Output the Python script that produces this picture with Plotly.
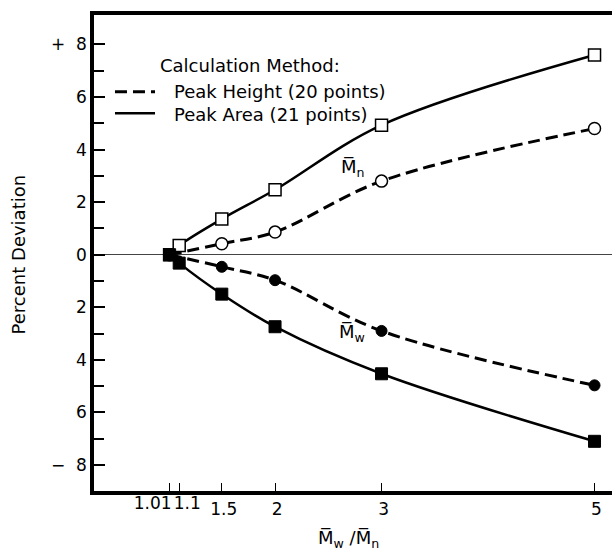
import plotly.graph_objects as go

# ---- data ----
x_area = [1.01, 1.1, 1.5, 2, 3, 5]
mn_area = [0.0, 0.35, 1.36, 2.47, 4.93, 7.6]
mw_area = [0.0, -0.32, -1.5, -2.74, -4.53, -7.1]

x_height = [1.01, 1.5, 2, 3, 5]
mn_height = [0.0, 0.42, 0.86, 2.8, 4.8]
mw_height = [0.0, -0.46, -0.97, -2.9, -4.97]

x_tick_vals = [1.01, 1.1, 1.5, 2, 3, 5]
x_tick_text = ["1.01", "1.1", "1.5", "2", "3", "5"]
y_tick_vals = [8, 6, 4, 2, 0, -2, -4, -6, -8]
y_tick_text = ["+\u00a0\u00a08", "6", "4", "2", "0", "2", "4", "6", "\u2212\u00a0\u00a08"]
y_minor_vals = [7, 5, 3, 1, -1, -3, -5, -7]

legend_title = "Calculation Method:"
legend_height = "Peak Height (20 points)"
legend_area = "Peak Area (21 points)"
label_mn = "M\u0305<sub>n</sub>"
label_mw = "M\u0305<sub>w</sub>"
x_title = "M\u0305<sub>w</sub> /M\u0305<sub>n</sub>"
y_title = "Percent Deviation"

FONT = "DejaVu Sans"
BLACK = "#000000"
X_RANGE = [0.300, 5.164]

fig = go.Figure()

# Peak height (dashed) – open circles for Mn
fig.add_trace(go.Scatter(
    x=x_height, y=mn_height, mode="lines+markers",
    line=dict(color=BLACK, width=3, dash="12px,6px", shape="spline", smoothing=1.0),
    marker=dict(symbol="circle", size=12, color="white", line=dict(color=BLACK, width=1.5)),
    showlegend=False, hoverinfo="skip"))
# Peak height (dashed) – filled circles for Mw
fig.add_trace(go.Scatter(
    x=x_height, y=mw_height, mode="lines+markers",
    line=dict(color=BLACK, width=3, dash="12px,6px", shape="spline", smoothing=1.0),
    marker=dict(symbol="circle", size=11, color=BLACK, line=dict(color=BLACK, width=1)),
    showlegend=False, hoverinfo="skip"))
# Peak area (solid) – open squares for Mn (overlaid axis x2 carries the 1.01 label)
fig.add_trace(go.Scatter(
    x=x_area, y=mn_area, mode="lines+markers", xaxis="x2",
    line=dict(color=BLACK, width=2.5, shape="spline", smoothing=1.0),
    marker=dict(symbol="square", size=12, color="white", line=dict(color=BLACK, width=1.5)),
    showlegend=False, hoverinfo="skip"))
# Peak area (solid) – filled squares for Mw (overlaid axis x3 carries the 1.1 label)
fig.add_trace(go.Scatter(
    x=x_area, y=mw_area, mode="lines+markers", xaxis="x3",
    line=dict(color=BLACK, width=2.5, shape="spline", smoothing=1.0),
    marker=dict(symbol="square", size=12, color=BLACK, line=dict(color=BLACK, width=1)),
    showlegend=False, hoverinfo="skip"))

tick_font = dict(family=FONT, size=17, color=BLACK)


def overlay_axis(vals, texts, shift):
    return dict(
        range=X_RANGE, overlaying="x", anchor="y", side="bottom",
        showgrid=False, zeroline=False, automargin=False, showline=False,
        ticks="inside", ticklen=8, tickwidth=1, tickcolor=BLACK,
        tickmode="array", tickvals=vals, ticktext=texts, tickangle=0,
        ticklabelshift=shift, tickfont=tick_font,
    )


fig.update_layout(
    width=612, height=554,
    margin=dict(l=94, r=0, t=15, b=63, autoexpand=False),
    paper_bgcolor="white", plot_bgcolor="white",
    font=dict(family=FONT, size=17, color=BLACK),
    hovermode=False,
    xaxis=dict(
        range=X_RANGE, showgrid=False, zeroline=False, automargin=False,
        showline=True, linecolor=BLACK, linewidth=3.5, mirror=True,
        ticks="inside", ticklen=8, tickwidth=1, tickcolor=BLACK,
        tickmode="array", tickvals=x_tick_vals[2:], ticktext=x_tick_text[2:], tickangle=0,
        ticklabelshift=2, tickfont=tick_font,
    ),
    xaxis2=overlay_axis(x_tick_vals[:1], x_tick_text[:1], -17),
    xaxis3=overlay_axis(x_tick_vals[1:2], x_tick_text[1:2], 8),
    yaxis=dict(
        range=[-8.99, 9.12], showgrid=False, automargin=False,
        zeroline=True, zerolinecolor="#444444", zerolinewidth=1,
        showline=True, linecolor=BLACK, linewidth=3.5,
        ticks="inside", ticklen=11, tickwidth=1.5, tickcolor=BLACK,
        tickmode="array", tickvals=y_tick_vals, ticktext=y_tick_text,
        tickfont=tick_font,
        minor=dict(tickmode="array", tickvals=y_minor_vals, ticks="inside",
                   ticklen=10, tickwidth=1.5, tickcolor=BLACK, showgrid=False),
    ),
)

# legend drawn as shapes + text
fig.add_shape(type="line", xref="paper", yref="paper", x0=0.0405, x1=0.1178,
              y0=0.8389, y1=0.8389, line=dict(color=BLACK, width=3, dash="12px,6px"))
fig.add_shape(type="line", xref="paper", yref="paper", x0=0.0405, x1=0.1178,
              y0=0.7935, y1=0.7935, line=dict(color=BLACK, width=2.5))
fig.add_annotation(text=legend_title, xref="paper", yref="paper", x=0.1241, y=0.893,
                   xanchor="left", yanchor="middle", showarrow=False,
                   font=dict(family=FONT, size=18, color=BLACK))
fig.add_annotation(text=legend_height, xref="paper", yref="paper", x=0.150, y=0.840,
                   xanchor="left", yanchor="middle", showarrow=False,
                   font=dict(family=FONT, size=18, color=BLACK))
fig.add_annotation(text=legend_area, xref="paper", yref="paper", x=0.150, y=0.792,
                   xanchor="left", yanchor="middle", showarrow=False,
                   font=dict(family=FONT, size=18, color=BLACK))

# curve labels
fig.add_annotation(text=label_mn, x=2.73, y=3.29, xref="x", yref="y", showarrow=False,
                   font=dict(family=FONT, size=18, color=BLACK))
fig.add_annotation(text=label_mw, x=2.72, y=-2.98, xref="x", yref="y", showarrow=False,
                   font=dict(family=FONT, size=18, color=BLACK))

# axis titles
fig.add_annotation(text=y_title, xref="paper", yref="paper", x=-0.1458, y=0.498,
                   textangle=-90, showarrow=False, xanchor="center", yanchor="middle",
                   font=dict(family=FONT, size=18, color=BLACK))
fig.add_annotation(text=x_title, xref="paper", yref="paper", x=0.492, y=-0.100,
                   showarrow=False, xanchor="center", yanchor="middle",
                   font=dict(family=FONT, size=18, color=BLACK))

fig.write_html("out.html", config={"displayModeBar": False},
               post_script="document.body.style.margin='0';")
